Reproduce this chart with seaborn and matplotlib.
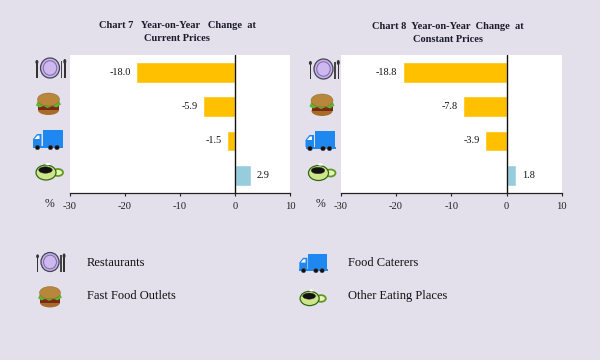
import matplotlib
matplotlib.use("Agg")
import matplotlib.pyplot as plt
from matplotlib.patches import Circle, Ellipse, Rectangle, Polygon
import pandas as pd
import seaborn as sns

categories = ["Restaurants", "Fast Food Outlets", "Food Caterers", "Other Eating Places"]
current_prices = [-18.0, -5.9, -1.5, 2.9]
constant_prices = [-18.8, -7.8, -3.9, 1.8]
label_current = ["-18.0", "-5.9", "-1.5", "2.9"]
label_constant = ["-18.8", "-7.8", "-3.9", "1.8"]
title_current = "Chart 7   Year-on-Year   Change  at\nCurrent Prices"
title_constant = "Chart 8  Year-on-Year  Change  at\nConstant Prices"
x_ticks = [-30, -20, -10, 0, 10]

BG = "#E3DFEB"
NEG = "#FFC000"
POS = "#96CCDC"
W, H = 600, 360

sns.set_theme(style="white")
plt.rcParams["font.family"] = ["Liberation Serif", "DejaVu Serif"]
fig = plt.figure(figsize=(6, 3.6), dpi=100, facecolor=BG)


def panel(left, top, width, height, values, labels, title, title_x, title_y):
    ax = fig.add_axes([left / W, 1 - (top + height) / H, width / W, height / H], facecolor="white")
    df = pd.DataFrame({"cat": categories, "val": values})
    colors = [NEG if v < 0 else POS for v in values]
    sns.barplot(data=df, y="cat", x="val", hue="cat", palette=dict(zip(categories, colors)),
                order=categories, hue_order=categories, orient="h", width=0.6,
                saturation=1, legend=False, ax=ax)
    ax.set_xlim(x_ticks[0], x_ticks[-1])
    ax.set_ylim(3.5, -0.5)
    ax.axvline(0, color="#111111", lw=1.0, zorder=5)
    for s in ["top", "right", "left"]:
        ax.spines[s].set_visible(False)
    ax.spines["bottom"].set_color("#222222")
    ax.spines["bottom"].set_linewidth(0.9)
    ax.set_xticks(x_ticks)
    ax.set_xticklabels([str(t) for t in x_ticks])
    ax.tick_params(axis="x", bottom=True, length=2.5, width=0.8, color="#222222",
                   labelsize=7.6, labelcolor="#222222", pad=4)
    ax.set_yticks([])
    ax.set_xlabel("")
    ax.set_ylabel("")
    for i, (v, t) in enumerate(zip(values, labels)):
        ha = "right" if v < 0 else "left"
        d = -3.8 if v < 0 else 3.8
        ax.annotate(t, (v, i), xytext=(d, 0), textcoords="offset points", ha=ha, va="center",
                    fontsize=7.4, color="#111111")
    fig.text(title_x / W, 1 - title_y / H, title, ha="center", va="center",
             fontsize=7.5, fontweight="bold", color="#1a1a2a", linespacing=1.5)
    fig.text((left - 20) / W, 1 - (top + height + 11.5) / H, "%", ha="center", va="center",
             fontsize=8.5, color="#222222")
    return ax


panel(69.6, 55, 220.8, 137.5, current_prices, label_current, title_current, 177, 32)
panel(340.8, 55, 221, 137.5, constant_prices, label_constant, title_constant, 448, 33)

ov = fig.add_axes([0, 0, 1, 1], facecolor="none")
ov.set_xlim(0, W)
ov.set_ylim(H, 0)
ov.axis("off")


def plate(cx, cy, s=1.0):
    ov.add_patch(Ellipse((cx - 0.5 * s, cy), 19 * s, 20 * s, fc="#C9B3EC", ec="#444455", lw=0.9))
    ov.add_patch(Ellipse((cx - 0.5 * s, cy), 13.5 * s, 14.5 * s, fc="#CDB9EF", ec="#7a6aa0", lw=0.7))
    ov.add_patch(Rectangle((cx - 14.4 * s, cy - 5 * s), 1.6 * s, 15 * s, fc="#333333", ec="none"))
    ov.add_patch(Ellipse((cx - 13.6 * s, cy - 6 * s), 3 * s, 4 * s, fc="#333333", ec="none"))
    ov.add_patch(Rectangle((cx + 10.4 * s, cy - 7 * s), 1.3 * s, 17 * s, fc="#444444", ec="none"))
    ov.add_patch(Rectangle((cx + 13.6 * s, cy - 5 * s), 1.5 * s, 15 * s, fc="#333333", ec="none"))
    ov.add_patch(Ellipse((cx + 14.3 * s, cy - 6.5 * s), 3 * s, 5 * s, fc="#333333", ec="none"))


def burger(cx, cy, s=1.0):
    ov.add_patch(Ellipse((cx, cy + 6 * s), 21 * s, 10 * s, fc="#A86C28", ec="none"))
    ov.add_patch(Rectangle((cx - 10.5 * s, cy + 0.5 * s), 21 * s, 5.5 * s, fc="#7A2A14", ec="none"))
    ov.add_patch(Polygon([(cx - 12.5 * s, cy + 1.5 * s), (cx - 9 * s, cy + 3.5 * s), (cx - 5 * s, cy + 2 * s),
                          (cx - 1 * s, cy + 4 * s), (cx + 4 * s, cy + 2 * s), (cx + 8 * s, cy + 3.5 * s),
                          (cx + 12.5 * s, cy + 0.5 * s), (cx + 11 * s, cy - 2.5 * s), (cx - 11 * s, cy - 2.5 * s)],
                         fc="#5DB533", ec="none"))
    ov.add_patch(Ellipse((cx, cy - 4.5 * s), 22 * s, 13 * s, fc="#B8873C", ec="#8a6020", lw=0.3))


def truck(cx, cy, s=1.0):
    ov.add_patch(Rectangle((cx - 6.5 * s, cy - 10 * s), 20 * s, 15.5 * s, fc="#1E87F0", ec="none"))
    ov.add_patch(Polygon([(cx - 16 * s, cy + 6 * s), (cx - 16 * s, cy - 1 * s), (cx - 12 * s, cy - 6 * s),
                          (cx - 7.5 * s, cy - 6 * s), (cx - 7.5 * s, cy + 6 * s)], fc="#1E87F0", ec="none"))
    ov.add_patch(Polygon([(cx - 14.5 * s, cy - 1 * s), (cx - 11.5 * s, cy - 4.5 * s), (cx - 9.5 * s, cy - 4.5 * s),
                          (cx - 9.5 * s, cy - 1 * s)], fc="white", ec="none"))
    ov.add_patch(Rectangle((cx - 16 * s, cy + 5.5 * s), 30 * s, 2 * s, fc="#1E87F0", ec="none"))
    for dx in (-11.5, 1.5, 8):
        ov.add_patch(Circle((cx + dx * s, cy + 7.5 * s), 2.3 * s, fc="#111111", ec="#555555", lw=0.3))


def cup(cx, cy, s=1.0):
    ov.add_patch(Ellipse((cx + 9.5 * s, cy + 0.5 * s), 10 * s, 7 * s, fc="#E8F2B8", ec="#5E9A20", lw=1.3))
    ov.add_patch(Ellipse((cx - 2.5 * s, cy + 0.5 * s), 20 * s, 15 * s, fc="#CFE58C", ec="#2f6a10", lw=0.9))
    ov.add_patch(Ellipse((cx - 3 * s, cy - 2 * s), 13.5 * s, 6.5 * s, fc="#111111", ec="#333333", lw=0.3))
    ov.add_patch(Ellipse((cx - 0.5 * s, cy - 8 * s), 5 * s, 2.2 * s, fc="white", ec="none"))


icon_funcs = [plate, burger, truck, cup]
icon_x_left = [50.5, 48.5, 49, 48.5]
icon_y_left = [68, 104, 140, 172]
icon_x_right = [324, 322, 321.5, 321]
icon_y_right = [69, 105, 141, 172.5]
for f, x, y in zip(icon_funcs, icon_x_left, icon_y_left):
    f(x, y)
for f, x, y in zip(icon_funcs, icon_x_right, icon_y_right):
    f(x, y)

legend_icon_pos = [(50.5, 262), (50, 297), (314.5, 263.5), (312, 298)]
legend_text_x = [87, 87, 348, 348]
legend_text_y = [263, 296, 263, 296]
for f, (ix, iy), c, tx, ty in zip(icon_funcs, legend_icon_pos, categories, legend_text_x, legend_text_y):
    f(ix, iy, 0.95)
    ov.text(tx, ty, c, fontsize=9, ha="left", va="center", color="#111111")

fig.savefig("out.png", dpi=100, facecolor=BG)
